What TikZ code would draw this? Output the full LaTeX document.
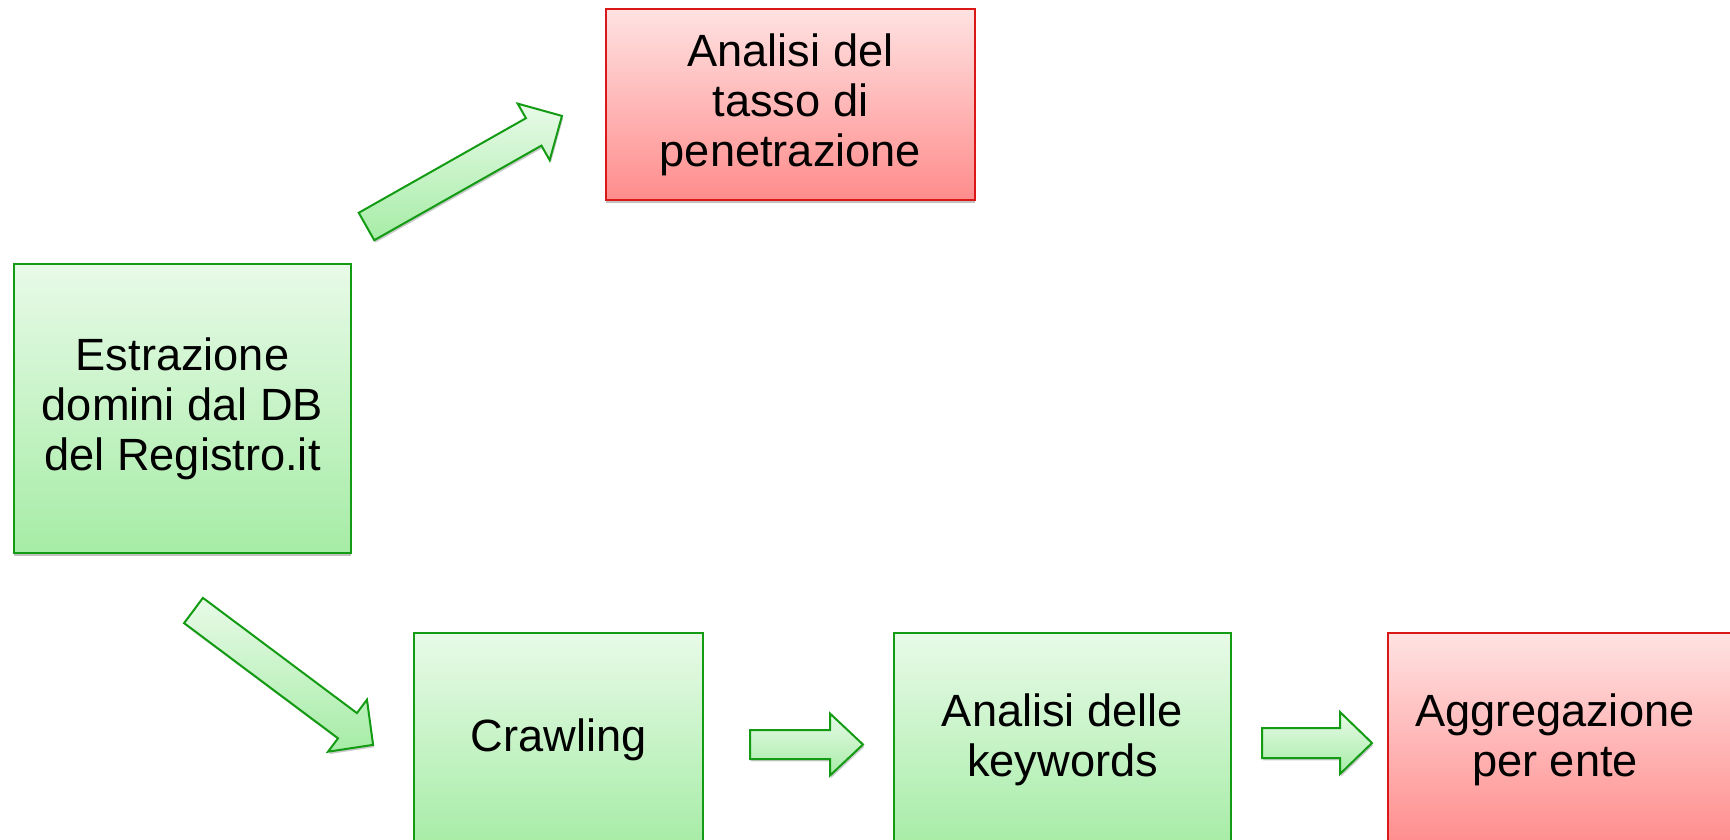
\documentclass[tikz,border=0pt]{standalone}
\usepackage{fontspec}
\setmainfont{Liberation Sans}
\usetikzlibrary{shadows}
\definecolor{gbord}{RGB}{20,155,20}
\definecolor{gtop}{RGB}{232,250,232}
\definecolor{gbot}{RGB}{166,236,166}
\definecolor{rbord}{RGB}{218,24,24}
\definecolor{rtop}{RGB}{255,226,226}
\definecolor{rbot}{RGB}{255,140,140}
\definecolor{shad}{RGB}{150,150,150}
\tikzset{
  boxbase/.style={draw, line width=1.2pt, align=center, inner sep=0pt,
    font=\fontsize{22.6}{25}\selectfont,
    drop shadow={shadow xshift=0pt, shadow yshift=-1.6pt, fill=shad, opacity=0.6}},
  gbox/.style={boxbase, draw=gbord, top color=gtop, bottom color=gbot},
  rbox/.style={boxbase, draw=rbord, top color=rtop, bottom color=rbot},
  blkarrow/.style={draw=gbord, line width=1pt, line join=miter, top color=gtop, bottom color=gbot,
    drop shadow={shadow xshift=0.6pt, shadow yshift=-1.2pt, fill=shad, opacity=0.5}}
}
% \blockarr{tail x}{tail y}{angle}{length}{shaft width}{head width}{head length}
\newcommand{\blockarr}[7]{%
  \begin{scope}[shift={(#1,#2)}, rotate=#3]
    \path[blkarrow] (0,-#5/2) -- (#4-#7,-#5/2) -- (#4-#7,-#6/2) -- (#4,0)
      -- (#4-#7,#6/2) -- (#4-#7,#5/2) -- (0,#5/2) -- cycle;
  \end{scope}}
\begin{document}
\begin{tikzpicture}[x=0.5pt, y=-0.5pt]
\useasboundingbox (0,0) rectangle (1730,840);
\node[rbox, minimum width=184.5pt, minimum height=95.5pt] (tasso) at (790.5,104.5)
  {Analisi del\\tasso di\\penetrazione};
\node[gbox, minimum width=168.5pt, minimum height=144.5pt] (estr) at (182.5,408.5)
  {Estrazione\\domini dal DB\\del Registro.it};
\node[gbox, minimum width=144.5pt, minimum height=107pt] (crawl) at (558.5,740)
  {Crawling};
\node[gbox, minimum width=168.5pt, minimum height=107pt] (kw) at (1062.5,740)
  {Analisi delle\\keywords};
\node[rbox, minimum width=178pt, minimum height=107pt] (aggr) at (1566,740)
  {\hspace*{-11pt}Aggregazione\\\hspace*{-11pt}per ente};
% block arrows
\blockarr{366.5}{226.5}{29.5}{224.6}{31.5}{65}{32.5}
\blockarr{193.5}{610.5}{-36.8}{224.3}{31.5}{65}{32}
\blockarr{750}{744.5}{0}{113}{29}{62}{33}
\blockarr{1262}{743}{0}{110}{30}{62}{32}
\end{tikzpicture}
\end{document}
